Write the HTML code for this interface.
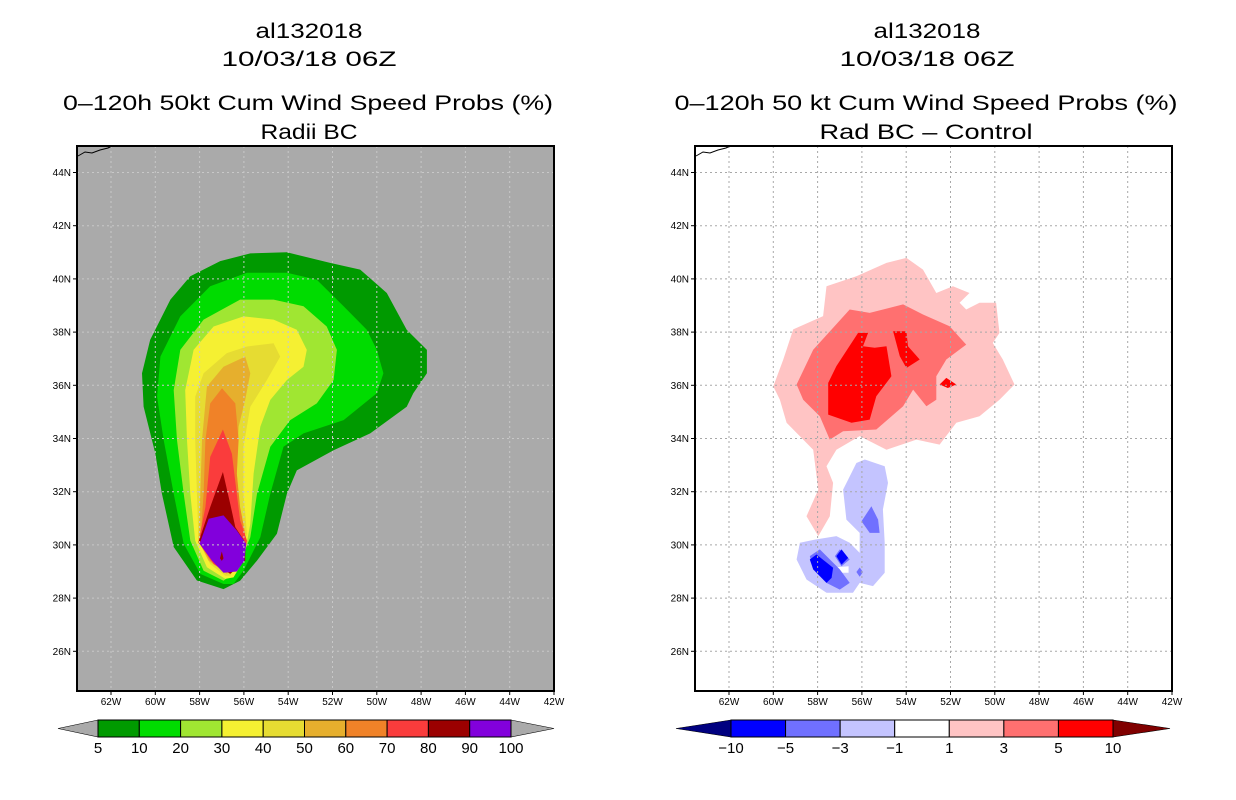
<!DOCTYPE html>
<html><head><meta charset="utf-8">
<style>
html,body{margin:0;padding:0;background:#fff;}
svg{display:block;font-family:"Liberation Sans",sans-serif;}
.t{font-size:21px;text-anchor:middle;fill:#000;}
.ax{font-size:10px;fill:#000;}
.cb{font-size:15px;text-anchor:middle;fill:#000;}
</style></head>
<body>
<svg id="root" width="1236" height="800" viewBox="0 0 1236 800">
  <defs>
    <clipPath id="clipL"><rect x="77" y="146" width="477" height="545"/></clipPath>
    <clipPath id="clipR"><rect x="695" y="146" width="477" height="545"/></clipPath>
  </defs>
  <g>
    <text class="t" x="309" y="38" textLength="107" lengthAdjust="spacingAndGlyphs">al132018</text>
    <text class="t" x="309" y="66" textLength="175" lengthAdjust="spacingAndGlyphs">10/03/18 06Z</text>
    <text class="t" x="308" y="110" textLength="490" lengthAdjust="spacingAndGlyphs">0–120h 50kt Cum Wind Speed Probs (%)</text>
    <text class="t" x="309" y="139" textLength="97" lengthAdjust="spacingAndGlyphs">Radii BC</text>
  </g>
  <g>
    <text class="t" x="927" y="38" textLength="107" lengthAdjust="spacingAndGlyphs">al132018</text>
    <text class="t" x="927" y="66" textLength="175" lengthAdjust="spacingAndGlyphs">10/03/18 06Z</text>
    <text class="t" x="926" y="110" textLength="503" lengthAdjust="spacingAndGlyphs">0–120h 50 kt Cum Wind Speed Probs (%)</text>
    <text class="t" x="926" y="139" textLength="213" lengthAdjust="spacingAndGlyphs">Rad BC – Control</text>
  </g>
  <rect x="77" y="146" width="477" height="545" fill="#aaaaaa"/>
  <rect x="695" y="146" width="477" height="545" fill="#ffffff"/>
  <g id="leftFill" clip-path="url(#clipL)"></g>
  <g id="rightFill" clip-path="url(#clipR)"></g>
  <g id="grids"></g>
  <g id="axes"></g>
  <g id="cbars"></g>
</svg>
<script>
// Axis ticks
const latTicks = [26,28,30,32,34,36,38,40,42,44];
const lonTicks = [62,60,58,56,54,52,50,48,46,44,42];
// Left colorbar
const probLevels = [5,10,20,30,40,50,60,70,80,90,100];
const probColors = ["#009a00","#00dc00","#a0e632","#f5f032","#e6dc32","#e6af2d","#f08228","#fa3c3c","#9b0000","#8200dc"];
// Right colorbar
const diffLevels = [-10,-5,-3,-1,1,3,5,10];
const diffColors = ["#0000ff","#7070ff","#c4c4ff","#ffffff","#ffc4c4","#ff7070","#ff0000"];
// Left contours (lonW, latN pairs)
const c5 = [[56.92,28.34],[58.12,28.66],[59.17,29.92],[59.7,31.93],[60,33.44],[60.53,35.2],[60.6,36.45],[60.23,37.71],[59.32,39.22],[58.42,40.1],[57.07,40.67],[55.71,40.96],[54.06,41.0],[52.11,40.6],[50.75,40.35],[49.55,39.47],[48.65,38.09],[47.74,37.33],[47.74,36.45],[48.35,35.7],[48.65,35.19],[50.3,34.19],[51.95,33.56],[53.61,32.8],[54.06,31.92],[54.51,30.42],[55.41,29.41],[56.17,28.65]];
const c10 = [[56.92,28.53],[57.97,28.91],[58.72,30.04],[59.17,31.92],[59.62,33.94],[59.92,35.57],[59.77,37.08],[58.87,38.59],[57.52,39.72],[55.86,40.23],[54.06,40.23],[52.71,39.97],[51.5,38.97],[50.45,38.09],[50.0,37.33],[49.7,36.45],[50.0,35.7],[51.5,34.69],[53.31,34.19],[54.21,33.69],[54.81,31.92],[55.26,30.29],[56.02,29.03],[56.47,28.53]];
const c20 = [[56.92,28.65],[57.82,29.03],[58.42,30.16],[58.72,31.92],[59.02,33.94],[59.17,35.82],[58.87,37.33],[57.82,38.47],[56.17,39.22],[54.66,39.22],[53.31,38.97],[52.26,38.21],[51.8,37.33],[51.95,36.2],[52.71,35.32],[53.91,34.69],[54.81,33.69],[55.41,31.92],[55.71,30.29],[56.32,29.03]];
const c30 = [[56.84,28.72],[57.67,29.16],[58.2,30.16],[58.42,31.92],[58.57,33.94],[58.65,35.82],[58.27,37.33],[57.37,38.21],[56.02,38.59],[54.66,38.47],[53.61,38.09],[53.16,37.33],[53.31,36.7],[54.06,36.2],[54.81,35.45],[55.26,34.44],[55.56,32.68],[55.71,30.79],[56.02,29.41],[56.47,28.78]];
const c40 = [[56.84,28.84],[57.52,29.28],[58.05,30.16],[58.12,31.92],[58.2,33.94],[58.2,35.57],[57.82,36.45],[56.77,37.21],[55.86,37.46],[54.66,37.58],[54.36,37.08],[54.96,36.2],[55.71,35.19],[56.02,33.69],[56.02,31.92],[55.86,30.42],[56.17,29.41],[56.62,28.84]];
const c50 = [[57.6,29.41],[58.05,30.16],[57.97,31.92],[57.89,33.94],[57.67,35.95],[56.92,36.7],[55.94,37.08],[55.71,36.45],[55.94,35.45],[56.24,34.44],[56.32,32.68],[56.17,31.17],[55.94,30.16],[56.17,29.41],[56.77,28.91]];
const c60 = [[57.97,30.04],[57.82,31.92],[57.74,33.94],[57.52,35.32],[56.99,35.89],[56.39,35.32],[56.24,33.94],[56.32,32.68],[56.17,31.42],[55.94,30.42],[56.17,29.53],[56.77,29.03],[57.52,29.41]];
const c70 = [[58.05,30.1],[57.74,31.42],[57.52,33.31],[56.95,34.34],[56.54,33.43],[56.32,31.92],[56.17,30.92],[55.86,30.16],[56.02,29.41],[56.62,28.91],[57.37,29.28]];
const c80 = [[58.05,30.1],[57.52,31.42],[56.95,32.74],[56.62,31.55],[56.39,30.67],[55.94,30.1],[55.94,29.41],[56.62,28.91],[57.22,29.28]];
const c90 = [[58.0,30.04],[57.59,30.98],[56.92,31.11],[56.32,30.54],[55.9,30.04],[55.98,29.41],[56.32,29.0],[56.92,28.95],[57.44,29.41]];
// Right contours
const d1 = [[60,35.96],[59.55,36.97],[59.1,38.1],[57.75,38.6],[57.6,39.72],[56.25,40.1],[54.89,40.6],[53.99,40.79],[53.24,40.35],[52.64,39.47],[51.89,39.72],[51.14,39.47],[51.59,39.1],[51.29,38.85],[50.69,39.1],[49.94,39.1],[49.79,37.97],[50.09,37.59],[49.64,36.97],[49.11,36.03],[49.79,35.46],[50.69,34.84],[51.74,34.59],[52.49,33.77],[53.54,33.96],[54.89,33.58],[56.1,34.09],[57.15,33.58],[57.6,32.96],[57.3,32.33],[57.45,31.08],[57.97,30.33],[58.5,31.08],[57.97,32.08],[58.2,33.58],[59.4,34.59],[59.7,35.46]];
const d3 = [[58.95,36.03],[58.2,37.34],[56.55,38.85],[55.65,38.72],[54.14,39.04],[53.24,38.66],[52.04,38.22],[51.29,37.53],[52.19,36.97],[52.64,36.34],[52.64,35.46],[53.09,35.21],[53.69,35.84],[54.14,35.21],[55.35,34.34],[56.85,34.27],[57.45,33.96],[57.9,34.84],[58.65,35.46]];
const d5a = [[57.15,36.72],[56.17,37.97],[55.72,37.97],[55.95,37.47],[55.42,37.41],[54.89,37.47],[54.67,36.34],[55.35,35.59],[55.65,34.71],[56.47,34.59],[57.52,34.9],[57.52,36.09]];
const d5b = [[54.59,38.03],[53.99,38.03],[53.92,37.47],[53.39,36.97],[53.99,36.65],[54.29,37.09]];
const d5c = [[52.49,36.03],[52.19,36.28],[51.74,36.03],[52.12,35.9]];
const m1 = [[56.62,32.46],[56.25,33.08],[55.87,33.21],[54.97,32.96],[54.82,32.33],[55.05,31.33],[54.97,30.08],[54.97,28.95],[55.5,28.45],[56.1,28.57],[56.4,28.2],[57.6,28.2],[58.5,28.7],[58.95,29.45],[58.8,30.08],[58.12,30.2],[57.15,30.33],[56.55,30.08],[56.1,29.7],[56.1,30.45],[56.7,30.95],[56.85,32.08]];
const m3a = [[55.57,31.45],[55.27,30.95],[55.2,30.45],[55.65,30.45],[56.02,30.89]];
const m3b = [[58.35,29.58],[57.9,29.83],[57.0,29.08],[56.55,28.57],[57.0,28.32],[57.6,28.57],[58.2,29.08]];
const m3c = [[57.22,29.58],[57.0,29.83],[56.55,29.45],[56.92,29.2]];
const m3d = [[56.1,29.15],[55.95,28.98],[56.1,28.8],[56.25,28.98]];
const m5a = [[58.35,29.45],[58.05,29.64],[57.3,29.14],[57.37,28.76],[57.6,28.57],[58.2,29.08]];
const m5b = [[57.15,29.58],[56.92,29.83],[56.62,29.51],[56.92,29.26]];
const hole = [[57.3,29.15],[56.6,29.2],[56.6,28.95],[57.2,28.95]];

const NS="http://www.w3.org/2000/svg";
const panels=[{x0:77,off:0},{x0:695,off:618}];
function xOf(lonW,p){return 111+p.off+(62-lonW)*22.15;}
function yOf(latN){return 172.5+(44-latN)*26.6;}
function poly(g,pts,p,fill,name){
  const e=document.createElementNS(NS,'polygon');
  e.setAttribute('points',pts.map(q=>xOf(q[0],p).toFixed(1)+','+yOf(q[1]).toFixed(1)).join(' '));
  e.setAttribute('fill',fill);
  
  
  g.appendChild(e);
}
const L=document.getElementById('leftFill'), R=document.getElementById('rightFill');
[c5,c10,c20,c30,c40,c50,c60,c70,c80,c90].forEach((c,i)=>poly(L,c,panels[0],probColors[i],'contour-'+probLevels[i]));
poly(L,[[57.0,29.75],[56.92,29.5],[57.0,29.4],[57.08,29.5]],panels[0],"#9b0000",'contour-90-center');
poly(R,d1,panels[1],diffColors[4],'contour-plus-1');
poly(R,d3,panels[1],diffColors[5],'contour-plus-3');
[d5a,d5b,d5c].forEach(c=>poly(R,c,panels[1],diffColors[6],'contour-plus-5'));
poly(R,m1,panels[1],diffColors[2],'contour-minus-1');
poly(R,hole,panels[1],"#ffffff",'contour-minus-1-hole');
[m3a,m3b,m3c,m3d].forEach(c=>poly(R,c,panels[1],diffColors[1],'contour-minus-3'));
[m5a,m5b].forEach(c=>poly(R,c,panels[1],diffColors[0],'contour-minus-5'));

// grids + axes
const G=document.getElementById('grids'), A=document.getElementById('axes');
panels.forEach((p,pi)=>{
  const gc= pi===0 ? "#c8c8c8" : "#a8a8a8";
  lonTicks.forEach(lo=>{
    const x=xOf(lo,p);
    const l=document.createElementNS(NS,'line');
    l.setAttribute('x1',x);l.setAttribute('x2',x);l.setAttribute('y1',146);l.setAttribute('y2',691);
    l.setAttribute('stroke',gc);l.setAttribute('stroke-dasharray','2,3');
    
    
    G.appendChild(l);
    const tk=document.createElementNS(NS,'line');
    tk.setAttribute('x1',x);tk.setAttribute('x2',x);tk.setAttribute('y1',691);tk.setAttribute('y2',695);tk.setAttribute('stroke','#000');
    
    
    A.appendChild(tk);
    const t=document.createElementNS(NS,'text');
    t.setAttribute('x',x);t.setAttribute('y',705);t.setAttribute('class','ax');t.setAttribute('text-anchor','middle');
    t.textContent=lo+'W';
    
    
    A.appendChild(t);
  });
  latTicks.forEach(la=>{
    const y=yOf(la);
    const l=document.createElementNS(NS,'line');
    l.setAttribute('x1',p.x0);l.setAttribute('x2',p.x0+477);l.setAttribute('y1',y);l.setAttribute('y2',y);
    l.setAttribute('stroke',gc);l.setAttribute('stroke-dasharray','2,3');
    
    
    G.appendChild(l);
    const tk=document.createElementNS(NS,'line');
    tk.setAttribute('x1',p.x0-4);tk.setAttribute('x2',p.x0);tk.setAttribute('y1',y);tk.setAttribute('y2',y);tk.setAttribute('stroke','#000');
    
    
    A.appendChild(tk);
    const t=document.createElementNS(NS,'text');
    t.setAttribute('x',p.x0-6);t.setAttribute('y',y+3.5);t.setAttribute('class','ax');t.setAttribute('text-anchor','end');
    t.textContent=la+'N';
    
    
    A.appendChild(t);
  });
  const coast=document.createElementNS(NS,'polyline');
  coast.setAttribute('points',[[78,156],[85,152],[92,153],[100,150],[108,148],[112,146]].map(q=>(q[0]+p.off)+','+q[1]).join(' '));
  coast.setAttribute('fill','none');coast.setAttribute('stroke','#000');
  
  
  A.appendChild(coast);
  const fr=document.createElementNS(NS,'rect');
  fr.setAttribute('x',p.x0);fr.setAttribute('y',146);fr.setAttribute('width',477);fr.setAttribute('height',545);
  fr.setAttribute('fill','none');fr.setAttribute('stroke','#000');fr.setAttribute('stroke-width','2');
  
  
  A.appendChild(fr);
});

// colorbars
const C=document.getElementById('cbars');
function cbar(levels,colors,x0,x1,tipL,tipR,triL,triR,name){
  const n=colors.length, w=(x1-x0)/n, y0=720, y1=737;
  const g=document.createElementNS(NS,'g');
  
  
  C.appendChild(g);
  const tl=document.createElementNS(NS,'polygon');
  tl.setAttribute('points',`${x0},${y0} ${tipL},${(y0+y1)/2} ${x0},${y1}`);
  tl.setAttribute('fill',triL);tl.setAttribute('stroke','#000');tl.setAttribute('stroke-width','0.6');
  
  
  g.appendChild(tl);
  const tr=document.createElementNS(NS,'polygon');
  tr.setAttribute('points',`${x1},${y0} ${tipR},${(y0+y1)/2} ${x1},${y1}`);
  tr.setAttribute('fill',triR);tr.setAttribute('stroke','#000');tr.setAttribute('stroke-width','0.6');
  
  
  g.appendChild(tr);
  colors.forEach((c,i)=>{
    const r=document.createElementNS(NS,'rect');
    r.setAttribute('x',x0+i*w);r.setAttribute('y',y0);r.setAttribute('width',w);r.setAttribute('height',y1-y0);
    r.setAttribute('fill',c);r.setAttribute('stroke','#000');r.setAttribute('stroke-width','1');
    
    
    g.appendChild(r);
  });
  levels.forEach((v,i)=>{
    const t=document.createElementNS(NS,'text');
    t.setAttribute('x',x0+i*w);t.setAttribute('y',753);t.setAttribute('class','cb');
    t.textContent=String(v).replace('-','−');
    
    
    g.appendChild(t);
  });
}
cbar(probLevels,probColors,98,511,58,554,"#aaaaaa","#aaaaaa",'probability-colorbar');
cbar(diffLevels,diffColors,731,1113,676,1170,"#000080","#800000",'difference-colorbar');
</script>
</body></html>
